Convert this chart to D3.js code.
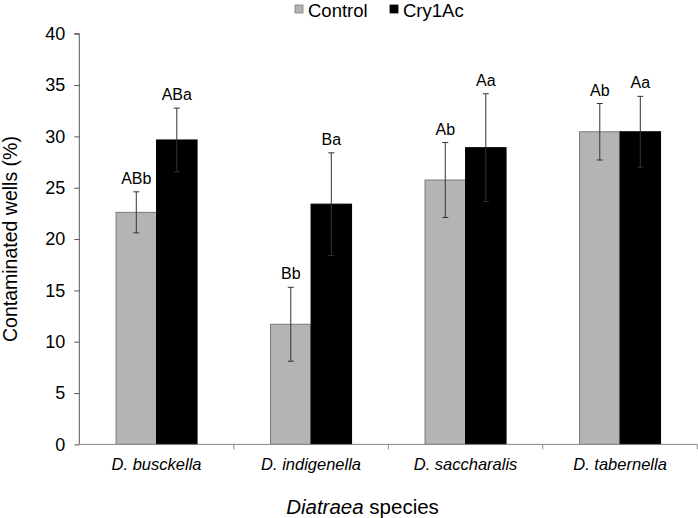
<!DOCTYPE html>
<html>
<head>
<meta charset="utf-8">
<script src="https://cdn.jsdelivr.net/npm/d3@7"></script>
<style>
html,body{margin:0;padding:0;background:#fff;}
svg{display:block;}
text{font-family:Arial,"Liberation Sans",Helvetica,sans-serif;fill:#000;}
</style>
</head>
<body>
<svg id="chart" width="698" height="518"></svg>
<script>
const categories = ["D. busckella", "D. indigenella", "D. saccharalis", "D. tabernella"];
const seriesNames = ["Control", "Cry1Ac"];
const controlValues = [22.6, 11.7, 25.75, 30.45];
const cry1acValues = [29.65, 23.4, 28.9, 30.45];
const controlErrors = [2.0, 3.6, 3.65, 2.75];
const cry1acErrors = [3.1, 5.0, 5.25, 3.45];
const controlLabels = ["ABb", "Bb", "Ab", "Ab"];
const cry1acLabels = ["ABa", "Ba", "Aa", "Aa"];
const yTicks = [0, 5, 10, 15, 20, 25, 30, 35, 40];
const colors = {"Control": "#b4b4b4", "Cry1Ac": "#000000"};

const svg = d3.select("#chart");
const m = {left: 79.3, right: 697.3, top: 33.7, bottom: 444.4};

const x0 = d3.scaleBand().domain(categories).range([m.left, m.right]).padding(0);
const x1 = d3.scaleBand().domain(seriesNames).range([0, x0.bandwidth()]).paddingInner(0).paddingOuter(0.907);
const y = d3.scaleLinear().domain([0, 40]).range([m.bottom, m.top]);

const data = categories.map((c, i) => ({
  cat: c,
  vals: [
    {s: "Control", v: controlValues[i], e: controlErrors[i], l: controlLabels[i]},
    {s: "Cry1Ac", v: cry1acValues[i], e: cry1acErrors[i], l: cry1acLabels[i]}
  ]
}));

// bars
const g = svg.append("g");
const grp = g.selectAll("g.grp").data(data).join("g").attr("transform", d => `translate(${x0(d.cat)},0)`);
grp.selectAll("rect").data(d => d.vals).join("rect")
  .attr("x", d => x1(d.s))
  .attr("y", d => y(d.v))
  .attr("width", x1.bandwidth())
  .attr("height", d => y(0) - y(d.v))
  .attr("fill", d => colors[d.s])
  .attr("stroke", d => d.s === "Control" ? "#7a7a7a" : "#000")
  .attr("stroke-width", 1);

// error bars
const eb = grp.selectAll("g.eb").data(d => d.vals).join("g").attr("class", "eb");
eb.append("line")
  .attr("x1", d => x1(d.s) + x1.bandwidth()/2).attr("x2", d => x1(d.s) + x1.bandwidth()/2)
  .attr("y1", d => y(d.v + d.e)).attr("y2", d => y(d.v - d.e))
  .attr("stroke", "#333").attr("stroke-width", 1);
eb.append("line")
  .attr("x1", d => x1(d.s) + x1.bandwidth()/2 - 3).attr("x2", d => x1(d.s) + x1.bandwidth()/2 + 3)
  .attr("y1", d => y(d.v + d.e)).attr("y2", d => y(d.v + d.e))
  .attr("stroke", "#333").attr("stroke-width", 1);
eb.append("line")
  .attr("x1", d => x1(d.s) + x1.bandwidth()/2 - 3).attr("x2", d => x1(d.s) + x1.bandwidth()/2 + 3)
  .attr("y1", d => y(d.v - d.e)).attr("y2", d => y(d.v - d.e))
  .attr("stroke", "#333").attr("stroke-width", 1);
eb.append("text")
  .attr("x", d => x1(d.s) + x1.bandwidth()/2)
  .attr("y", d => y(d.v + d.e) - 8)
  .attr("text-anchor", "middle")
  .attr("font-size", "16px")
  .text(d => d.l);

// y axis
const yAxis = d3.axisLeft(y).tickValues(yTicks).tickSize(5).tickPadding(9);
const ya = svg.append("g").attr("transform", `translate(${m.left},0)`).call(yAxis);
ya.selectAll("path,line").attr("stroke", "#555");
ya.select(".domain").attr("d", `M-5,${m.top}H0V${m.bottom}`);
ya.selectAll("text").attr("font-size", "18px").attr("fill", "#000");

// x axis
const xAxis = d3.axisBottom(x0).tickSize(0).tickPadding(14);
const xa = svg.append("g").attr("transform", `translate(0,${m.bottom})`).call(xAxis);
xa.select(".domain").attr("stroke", "#888").attr("d", `M${m.left},0H${m.right}`);
xa.selectAll("text").attr("font-size", "16.5px").attr("font-style", "italic").attr("fill", "#000");
// boundary ticks
xa.selectAll("line.bt").data(categories.slice(1).concat(["__end"])).join("line").attr("class", "bt")
  .attr("x1", d => d === "__end" ? m.right : x0(d)).attr("x2", d => d === "__end" ? m.right : x0(d))
  .attr("y1", 0).attr("y2", 5).attr("stroke", "#888");

// axis titles
svg.append("text")
  .attr("transform", `translate(17,${(m.top + m.bottom)/2}) rotate(-90)`)
  .attr("text-anchor", "middle").attr("font-size", "19.5px")
  .text("Contaminated wells (%)");
const xt = svg.append("text").attr("x", 362.5).attr("y", 514).attr("text-anchor", "middle").attr("font-size", "20.5px");
xt.append("tspan").attr("font-style", "italic").text("Diatraea");
xt.append("tspan").text(" species");

// legend
const leg = svg.append("g");
const legItems = [{s: "Control", x: 295}, {s: "Cry1Ac", x: 390}];
leg.selectAll("rect").data(legItems).join("rect")
  .attr("x", d => d.x).attr("y", 5).attr("width", 8).attr("height", 8)
  .attr("fill", d => colors[d.s]).attr("stroke", d => d.s === "Control" ? "#7a7a7a" : "#000").attr("stroke-width", 0.8);
leg.selectAll("text").data(legItems).join("text")
  .attr("x", d => d.x + 13).attr("y", 16.5).attr("font-size", "18.5px")
  .text(d => d.s);
</script>
</body>
</html>
